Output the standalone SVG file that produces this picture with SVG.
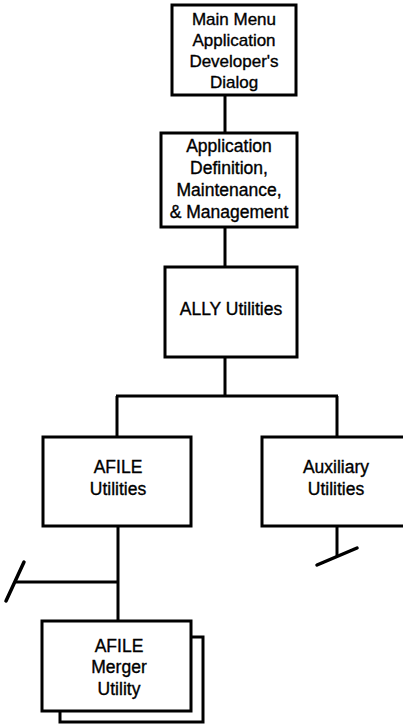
<svg xmlns="http://www.w3.org/2000/svg" width="403" height="727" viewBox="0 0 403 727">
  <style>
    .box { fill: #fff; stroke: #000; stroke-width: 3; }
    .wire { fill: none; stroke: #000; stroke-width: 3; stroke-linecap: butt; }
    .tick { fill: none; stroke: #000; stroke-width: 3.5; stroke-linecap: round; }
    text { font-family: "Liberation Sans", Arial, Helvetica, sans-serif; fill: #000; stroke: #000; stroke-width: 0.35; text-anchor: middle; }
    .t16 { font-size: 17px; }
    .t17 { font-size: 17.5px; }
  </style>
  <rect width="403" height="727" fill="#fff"/>

  <!-- connectors -->
  <g id="connectors">
    <path class="wire" d="M225,95 V133"/>
    <path class="wire" d="M225,227 V267"/>
    <path class="wire" d="M225,357 V396 M116,396 H338 M117,396 V437 M337,396 V437"/>
    <path class="wire" d="M118,526 V621 M16,582 H118"/>
    <path class="tick" d="M24,562 L6,601"/>
    <path class="wire" d="M337,526 V556"/>
    <path class="tick" d="M317,565 L357,548"/>
  </g>

  <g id="main-menu">
    <rect class="box" x="172" y="5" width="124" height="90"/>
    <text class="t16" x="234" y="25">Main Menu</text>
    <text class="t16" x="234" y="46">Application</text>
    <text class="t16" x="234" y="67">Developer's</text>
    <text class="t16" x="234" y="88">Dialog</text>
  </g>

  <g id="app-definition">
    <rect class="box" x="161" y="133" width="136" height="94"/>
    <text class="t17" x="229" y="152">Application</text>
    <text class="t17" x="229" y="174">Definition,</text>
    <text class="t17" x="229" y="196">Maintenance,</text>
    <text class="t17" x="229" y="218">&amp; Management</text>
  </g>

  <g id="ally-utilities">
    <rect class="box" x="165" y="267" width="132" height="90"/>
    <text class="t17" x="231" y="315">ALLY Utilities</text>
  </g>

  <g id="afile-utilities">
    <rect class="box" x="43" y="437" width="148" height="89"/>
    <text class="t17" x="118" y="473">AFILE</text>
    <text class="t17" x="118" y="495">Utilities</text>
  </g>

  <g id="auxiliary-utilities">
    <rect class="box" x="262" y="437" width="150" height="89"/>
    <text class="t17" x="336" y="473">Auxiliary</text>
    <text class="t17" x="336" y="495">Utilities</text>
  </g>

  <g id="afile-merger">
    <rect class="box" x="60" y="637" width="143" height="85"/>
    <rect class="box" x="42" y="621" width="149" height="90"/>
    <text class="t17" x="119" y="652">AFILE</text>
    <text class="t17" x="119" y="673">Merger</text>
    <text class="t17" x="119" y="695">Utility</text>
  </g>
</svg>
